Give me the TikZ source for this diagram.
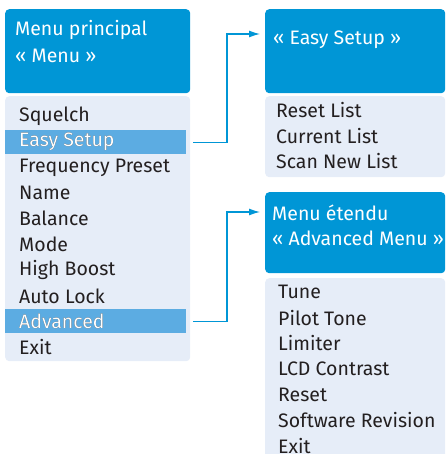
\documentclass[tikz,border=0pt]{standalone}
\usepackage{fontspec}
\setmainfont{Fira Sans}
\usetikzlibrary{calc,positioning,arrows.meta}
\definecolor{menublue}{RGB}{0,150,214}
\definecolor{hiblue}{RGB}{92,172,226}
\definecolor{listbg}{RGB}{230,237,248}
\definecolor{textgray}{RGB}{35,31,32}

\begin{document}
\begin{tikzpicture}[x=1pt,y=-1pt,font=\fontsize{19.5}{23}\selectfont,
  head/.style={fill=menublue,rounded corners=4pt,anchor=north west,inner sep=0pt,minimum width=#1},
  list/.style={fill=listbg,rounded corners=4pt,anchor=north west,inner sep=0pt,minimum width=#1},
  hilite/.style={fill=hiblue,anchor=north west,inner sep=0pt,minimum width=181pt,minimum height=24pt},
  item/.style={anchor=west,text=textgray,inner sep=0pt},
  title/.style={anchor=west,text=white,inner sep=0pt},
  link/.style={-{Latex[length=11pt,width=7pt]},draw=menublue,line width=1.2pt}]
      \useasboundingbox (0,0) rectangle (446,454);
      % main menu
      \node [head=185pt,minimum height=84pt] (mainHead) at (5,9) {};
      \node [list=185pt,minimum height=265pt] (mainList) at (5,96) {};
      \node [title] (mainT1) at (15,30) {Menu principal};
      \node [title] (mainT2) at (15,56) {« Menu »};
      \node [hilite] (hlEasy) at (5,130) {};
      \node [hilite] (hlAdv) at (5,309) {};
      \foreach \txt [count=\i from 0] in {Squelch,Easy Setup,Frequency Preset,Name,Balance,Mode,High Boost,Auto Lock,Advanced,Exit}
        \node [item] (main\i) at (19,{116+25.7*\i}) {\txt};
      \node [item,text=white] at (main1.west) [anchor=west] {Easy Setup};
      \node [item,text=white] at (main8.west) [anchor=west] {Advanced};
      % easy setup
      \node [head=180pt,minimum height=84pt] (easyHead) at (265,9) {};
      \node [list=180pt,minimum height=81pt] (easyList) at (265,96) {};
      \node [title] (easyT) at (273,40) {« Easy Setup »};
      \foreach \txt [count=\i from 0] in {Reset List,Current List,Scan New List}
        \node [item] (easy\i) at (276,{110+25.7*\i}) {\txt};
      % advanced menu
      \node [head=180pt,minimum height=81pt] (advHead) at (265,192) {};
      \node [list=180pt,minimum height=190pt] (advList) at (265,278) {};
      \node [title] (advT1) at (272,213) {Menu étendu};
      \node [title] (advT2) at (272,238) {« Advanced Menu »};
      \foreach \txt [count=\i from 0] in {Tune,Pilot Tone,Limiter,LCD Contrast,Reset,Software Revision,Exit}
        \node [item] (adv\i) at (278,{292+25.7*\i}) {\txt};
      % links
      \draw [link] ($(hlEasy.east)+(7,0)$) -| ($(easyHead.north west)+(-38,25)$) -- ($(easyHead.north west)+(-5,25)$);
      \draw [link] ($(hlAdv.east)+(7,0)$) -| ($(advHead.north west)+(-38,20)$) -- ($(advHead.north west)+(-5,20)$);
\end{tikzpicture}
\end{document}
